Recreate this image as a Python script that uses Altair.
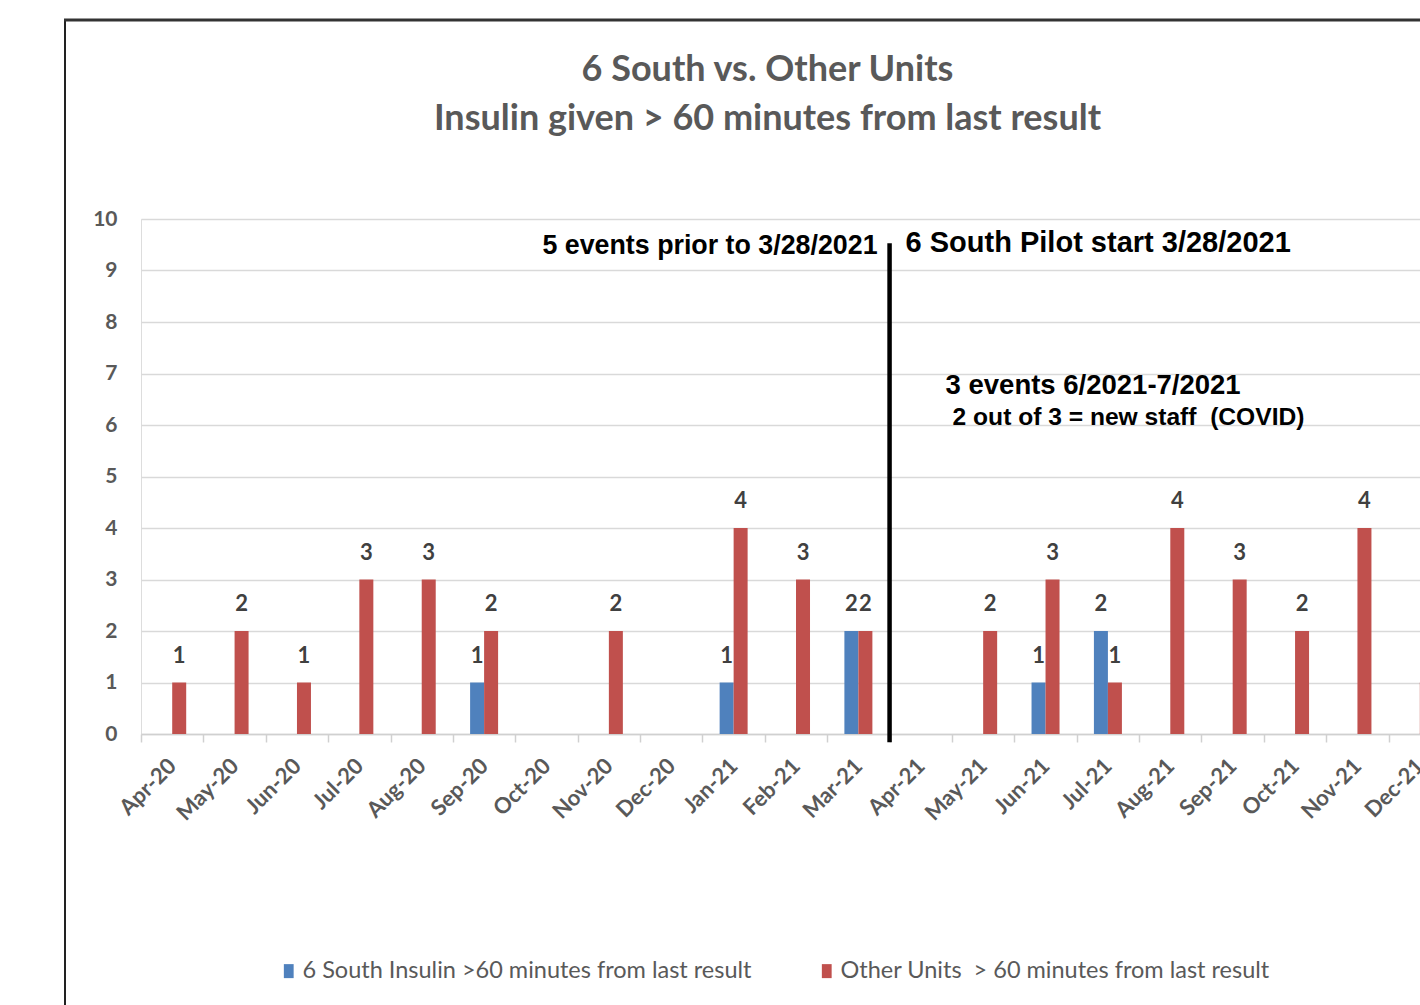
import altair as alt
import pandas as pd

months = ["Apr-20", "May-20", "Jun-20", "Jul-20", "Aug-20", "Sep-20", "Oct-20",
          "Nov-20", "Dec-20", "Jan-21", "Feb-21", "Mar-21", "Apr-21", "May-21",
          "Jun-21", "Jul-21", "Aug-21", "Sep-21", "Oct-21", "Nov-21", "Dec-21"]
south_6 = [None, None, None, None, None, 1, None, None, None, 1, None, 2,
           None, None, 1, 2, None, None, None, None, None]
other_units = [1, 2, 1, 3, 3, 2, None, 2, None, 4, 3, 2,
               None, 2, 3, 1, 4, 3, 2, 4, 1]
series_names = ["6 South Insulin >60 minutes from last result",
                "Other Units\u00a0 > 60 minutes from last result"]
series_colors = ["#4F81BD", "#C0504D"]

title_lines = ["6 South vs. Other Units", "Insulin given > 60 minutes from last result"]

pilot_month = "Apr-21"
pilot_line_top = 9.53
pilot_line_bottom = -0.16
note_left = "5 events prior to 3/28/2021"
note_right = "6 South Pilot start 3/28/2021"
note_events_1 = "3 events 6/2021-7/2021"
note_events_2 = "2 out of 3 = new staff\u00a0 (COVID)"
note_y_top = [9.48, 9.53]
note_y_events = [6.76, 6.14]

rows = []
for m, s, o in zip(months, south_6, other_units):
    rows.append({"month": m, "series": series_names[0], "value": s})
    rows.append({"month": m, "series": series_names[1], "value": o})
df = pd.DataFrame(rows)

FONT = "Lato"
GRAY = "#595959"

x_scale = alt.Scale(domain=months, range=[0, 1310], paddingInner=0, paddingOuter=0)
x_axis = alt.Axis(title=None, labelAngle=-45, labelAlign="right", labelBaseline="middle",
                  labelFont=FONT, labelFontSize=22, labelFontWeight="bold", labelColor=GRAY,
                  labelPadding=20, tickBand="extent", tickSize=8, tickColor="#d0d0d0",
                  tickWidth=1.5, domainColor="#d0d0d0", domainWidth=1.5, grid=False)
y_scale = alt.Scale(domain=[0, 10], nice=False)
y_axis = alt.Axis(title=None, values=list(range(11)), grid=True, gridColor="#d9d9d9",
                  gridWidth=1.3, domain=False, ticks=False, labelFont=FONT, labelFontSize=21,
                  labelFontWeight="bold", labelColor=GRAY, labelPadding=24)
offset_scale = alt.Scale(domain=series_names, range=[17.2, 45.2], paddingInner=0, paddingOuter=0)

base = alt.Chart(df)

bars = base.mark_bar().encode(
    x=alt.X("month:N", sort=months, scale=x_scale, axis=x_axis),
    xOffset=alt.XOffset("series:N", sort=series_names, scale=offset_scale),
    y=alt.Y("value:Q", scale=y_scale, axis=y_axis),
    color=alt.Color("series:N", sort=series_names,
                    scale=alt.Scale(domain=series_names, range=series_colors),
                    legend=alt.Legend(title=None, orient="none", legendX=136, legendY=740,
                                      direction="horizontal", labelFont=FONT, labelFontSize=23.5,
                                      labelColor=GRAY, labelLimit=800, columnPadding=63,
                                      symbolType="M-0.7,-1H0.7V1H-0.7Z", symbolSize=196,
                                      symbolStrokeWidth=0, labelOffset=2)),
).transform_filter("datum.value != null")

labels = base.mark_text(dy=-27, font=FONT, fontSize=22, fontWeight="bold", color="#404040").encode(
    x=alt.X("month:N", sort=months, scale=x_scale),
    xOffset=alt.XOffset("series:N", sort=series_names, scale=offset_scale),
    y=alt.Y("value:Q", scale=y_scale),
    text=alt.Text("value:Q", format="d"),
).transform_filter("datum.value != null")

pilot_df = pd.DataFrame({"month": [pilot_month], "top": [pilot_line_top], "bottom": [pilot_line_bottom]})
pilot_rule = alt.Chart(pilot_df).mark_rule(color="#000000", strokeWidth=4.5).encode(
    x=alt.X("month:N", scale=x_scale, bandPosition=0),
    y=alt.Y("top:Q", scale=y_scale),
    y2="bottom:Q",
)

ANN_FONT = "Liberation Sans"

def note(text, y, dx, align, size):
    d = pd.DataFrame({"month": [pilot_month], "y": [y], "t": [text]})
    return alt.Chart(d).mark_text(align=align, baseline="middle", dx=dx, font=ANN_FONT,
                                  fontSize=size, fontWeight="bold", color="#000000").encode(
        x=alt.X("month:N", scale=x_scale, bandPosition=0),
        y=alt.Y("y:Q", scale=y_scale),
        text="t:N",
    )

notes = [
    note(note_left, note_y_top[0], -12, "right", 26.8),
    note(note_right, note_y_top[1], 16, "left", 29),
    note(note_events_1, note_y_events[0], 56, "left", 27.5),
    note(note_events_2, note_y_events[1], 63, "left", 24.6),
]

blank = alt.Data(values=[{}])
frame_left = alt.Chart(blank).mark_rule(color="#222222", strokeWidth=2).encode(
    x=alt.value(-76), y=alt.value(-199), y2=alt.value(800))
frame_top = alt.Chart(blank).mark_rule(color="#333333", strokeWidth=3).encode(
    x=alt.value(-77), x2=alt.value(1300), y=alt.value(-199))

chart = alt.layer(bars, labels, pilot_rule, *notes, frame_left, frame_top).properties(
    width=1279, height=515,
    padding={"left": 141, "top": 219, "right": 0, "bottom": 271},
    autosize=alt.AutoSizeParams(type="none"),
    title=alt.Title(title_lines, anchor="middle", frame="group", font=FONT, fontSize=36,
                    fontWeight="bold", color=GRAY, lineHeight=49, offset=0, dy=119, dx=-13),
).configure_view(strokeWidth=0).configure(background="white")

chart.save("out.html", embed_options={"renderer": "svg", "actions": False})
